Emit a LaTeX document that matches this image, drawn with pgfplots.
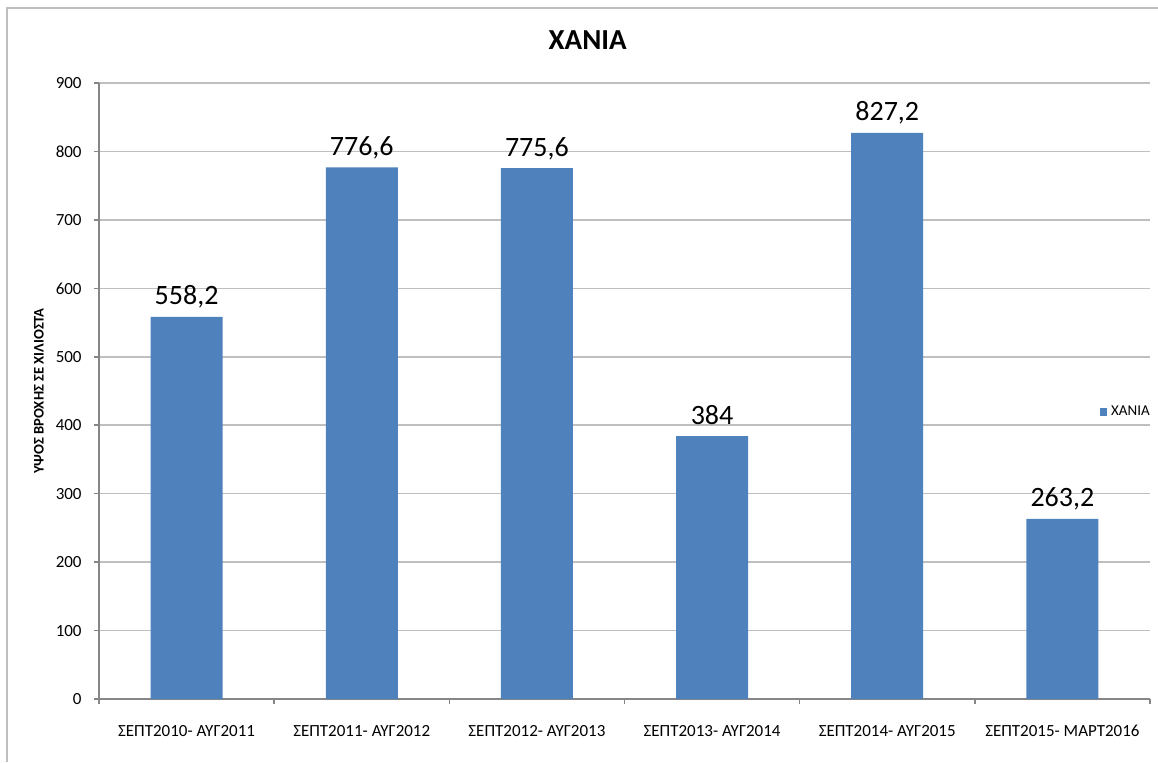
\documentclass[border=0pt]{standalone}
\usepackage{fontspec}
\setmainfont{Carlito}
\usepackage{pgfplots}
\pgfplotsset{compat=1.18}
\definecolor{barblue}{RGB}{79,129,189}
\definecolor{gridgray}{RGB}{191,191,191}
\definecolor{axisgray}{RGB}{134,134,134}
\begin{document}
\begin{tikzpicture}
\path[use as bounding box] (0,0) rectangle (579pt,-381pt);
\draw[gridgray, line width=0.8pt] (3.5pt,-381pt) -- (3.5pt,-4pt) -- (579pt,-4pt);
\begin{axis}[
  at={(49.5pt,-349.5pt)}, anchor=south west,
  scale only axis, width=525.5pt, height=308pt,
  ybar, bar width=36pt,
  xmin=-0.5, xmax=5.5, ymin=0, ymax=900,
  ytick={0,100,...,900},
  xtick={-0.5,0.5,...,5.5},
  x tick label as interval,
  xticklabels={ΣΕΠΤ2010- ΑΥΓ2011, ΣΕΠΤ2011- ΑΥΓ2012, ΣΕΠΤ2012- ΑΥΓ2013, ΣΕΠΤ2013- ΑΥΓ2014, ΣΕΠΤ2014- ΑΥΓ2015, ΣΕΠΤ2015- ΜΑΡΤ2016},
  axis x line*=bottom, axis y line*=left,
  axis line style={axisgray, -, line width=0.8pt},
  tick pos=left, tick align=outside, major tick length=2.5pt,
  tick style={axisgray, line width=0.8pt},
  ymajorgrids, grid style={gridgray, line width=0.8pt},
  /pgf/number format/assume math mode=true,
  ticklabel style={font=\fontsize{8.5}{10}\selectfont},
  yticklabel style={anchor=east, inner sep=0pt, xshift=-6pt},
  xticklabel style={anchor=base, inner sep=0pt, yshift=-16pt},
  title={ΧΑΝΙΑ},
  title style={at={(axis description cs:0.465,1)}, anchor=center, yshift=15.5pt, font=\bfseries\fontsize{14.5}{17}\selectfont},
  ylabel={ΥΨΟΣ ΒΡΟΧΗΣ ΣΕ ΧΙΛΙΟΣΤΑ},
  ylabel style={at={(axis description cs:-0.0571,0.5)}, anchor=center, font=\bfseries\fontsize{7.3}{9}\selectfont},
  legend style={at={(axis description cs:0.952,0.466)}, anchor=west, draw=none, fill=none, inner sep=0pt, font=\fontsize{7.5}{9}\selectfont},
  legend image code/.code={\fill[barblue] (0pt,-1.8pt) rectangle (3.6pt,1.8pt);},
]
\addplot[fill=barblue, draw=none, point meta=explicit symbolic,
  nodes near coords,
  nodes near coords style={anchor=base, yshift=6pt, font=\fontsize{14}{16}\selectfont, text=black}]
  table[meta=lbl] {
x y lbl
0 558.2 558,2
1 776.6 776,6
2 775.6 775,6
3 384 384
4 827.2 827,2
5 263.2 263,2
};
\addlegendentry{ΧΑΝΙΑ}
\end{axis}
\end{tikzpicture}
\end{document}
